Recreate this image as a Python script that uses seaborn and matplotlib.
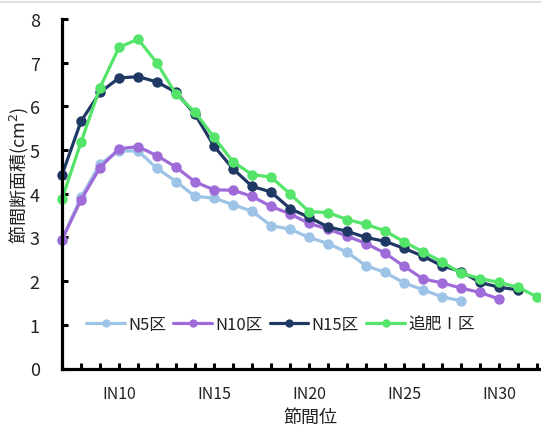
import matplotlib
matplotlib.use("Agg")
import matplotlib.pyplot as plt
import seaborn as sns
import pandas as pd
from matplotlib.lines import Line2D

# ---- data ----
internodes = list(range(7, 33))  # IN7 .. IN32
tick_label_positions = [10, 15, 20, 25, 30]
tick_labels = ["IN10", "IN15", "IN20", "IN25", "IN30"]

series_names = ["N5区", "N10区", "N15区", "追肥Ⅰ区"]
n5 = [2.95, 3.92, 4.68, 4.98, 4.98, 4.58, 4.28, 3.94, 3.90, 3.75, 3.60, 3.27,
      3.19, 3.00, 2.86, 2.66, 2.35, 2.20, 1.96, 1.80, 1.64, 1.55]
n10 = [2.95, 3.86, 4.60, 5.03, 5.08, 4.87, 4.61, 4.27, 4.09, 4.08, 3.94, 3.71,
       3.54, 3.32, 3.19, 3.03, 2.86, 2.64, 2.34, 2.05, 1.96, 1.84, 1.74, 1.59]
n15 = [4.43, 5.66, 6.32, 6.65, 6.68, 6.56, 6.32, 5.82, 5.09, 4.57, 4.17, 4.04,
       3.66, 3.46, 3.24, 3.14, 3.00, 2.91, 2.75, 2.57, 2.35, 2.22, 1.97, 1.86, 1.80]
tsuihi = [3.88, 5.18, 6.43, 7.35, 7.54, 6.99, 6.28, 5.87, 5.29, 4.73, 4.44, 4.38,
          4.00, 3.59, 3.57, 3.41, 3.30, 3.15, 2.90, 2.67, 2.44, 2.18, 2.06, 1.97,
          1.86, 1.64]
colors = ["#9DC3E6", "#9E6BD8", "#1F3864", "#55E46A"]

rows = []
for name, vals in zip(series_names, [n5, n10, n15, tsuihi]):
    for x, v in zip(internodes, vals):
        rows.append({"節間位": x, "値": v, "区": name})
df = pd.DataFrame(rows)

# ---- plot ----
sns.set_theme(style="white")
plt.rcParams["font.family"] = ["Noto Sans CJK JP", "DejaVu Sans"]
plt.rcParams["mathtext.fontset"] = "dejavusans"

fig = plt.figure(figsize=(5.41, 4.27), dpi=100)
ax = fig.add_axes([62 / 541, (427 - 369.5) / 427, (539 - 62) / 541, (369.5 - 20) / 427])

sns.lineplot(data=df, x="節間位", y="値", hue="区", hue_order=series_names,
             palette=colors, marker="o", markersize=7.5, markeredgewidth=0,
             linewidth=2.3, ax=ax, clip_on=False, legend=False)

ax.set_xlim(7, 32.1)
ax.set_ylim(0, 8)
ax.set_yticks(range(0, 9))
ax.set_xticks(internodes)
ax.set_xticklabels([tick_labels[tick_label_positions.index(x)] if x in tick_label_positions else ""
                    for x in internodes])

for s in ["top", "right"]:
    ax.spines[s].set_visible(False)
for s in ["left", "bottom"]:
    ax.spines[s].set_linewidth(2.3)
    ax.spines[s].set_color("black")

ax.tick_params(axis="both", direction="in", length=4.5, width=2.2, colors="black",
               labelcolor="#222222", bottom=True, left=True)
ax.tick_params(axis="y", labelsize=13, pad=16)
ax.tick_params(axis="x", labelsize=11.5, pad=12)

ax.set_ylabel("節間断面積(cm$^2$)", fontsize=13, color="#222222")
ax.yaxis.set_label_coords(-0.066, 0.556)
ax.set_xlabel("節間位", fontsize=13, color="#222222")
ax.xaxis.set_label_coords(0.52, -0.112)

handles = [Line2D([0], [0], color=c, linewidth=2.3, marker="o", markersize=6,
                  markeredgewidth=0) for c in colors]
ax.legend(handles, series_names, loc="center", bbox_to_anchor=(0.458, 0.125),
          ncol=4, frameon=False, fontsize=12, handlelength=2.3,
          handletextpad=0.2, columnspacing=0.45, labelcolor="#222222")

fig.add_artist(Line2D([0, 1], [1 - 2.5 / 427, 1 - 2.5 / 427], color="#d9d9d9",
                      linewidth=1.2, transform=fig.transFigure))

fig.savefig("out.png", dpi=100)
